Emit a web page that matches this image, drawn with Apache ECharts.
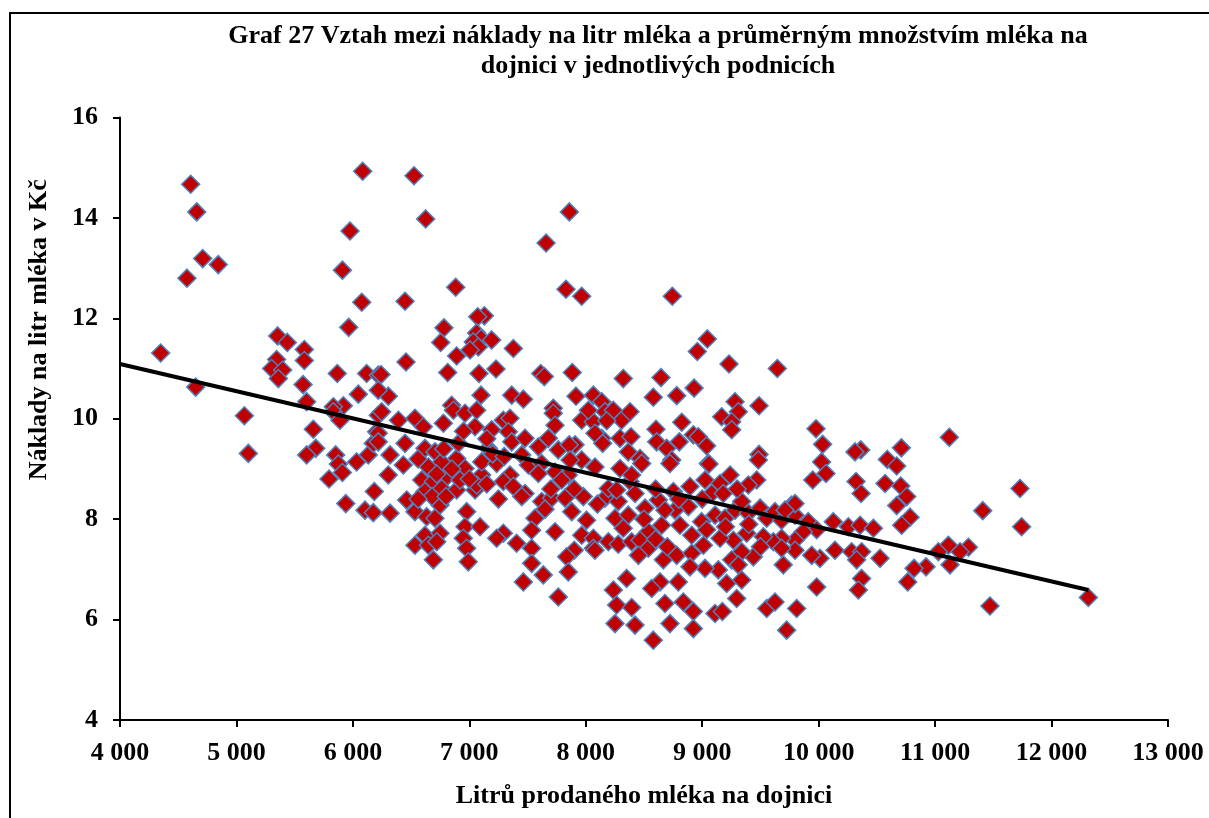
<!DOCTYPE html>
<html>
<head>
<meta charset="utf-8">
<title>Graf 27</title>
<script src="https://cdn.jsdelivr.net/npm/echarts@6/dist/echarts.min.js"></script>
<style>
  html, body { margin: 0; padding: 0; background: #fff; }
  #frame { position: absolute; left: 9px; top: 12px; width: 1400px; height: 1000px;
           border-left: 2px solid #000; border-top: 2px solid #000; }
  #chart { position: absolute; left: 0; top: 0; width: 1209px; height: 818px; }
</style>
</head>
<body>
<div id="frame"></div>
<div id="chart"></div>
<script>
// litry prodaneho mleka na dojnici, naklady na litr (Kc)
const farms = [
  [4607,14.67],[4659,14.12],[4710,13.19],[4844,13.07],[4575,12.80],[4349,11.31],[4650,10.63],
  [6084,14.93],[5975,13.74],[5910,12.96],[6076,12.32],[5964,11.82],[5354,11.65],[5437,11.52],
  [5583,11.38],[5583,11.16],[5345,11.18],[5302,11.00],[5397,10.97],[5360,10.80],[5572,10.68],
  [5603,10.34],[5866,10.90],[6118,10.90],[6047,10.49],[6218,10.87],[5918,10.26],[5832,10.24],
  [5068,10.06],[5102,9.31],[5832,10.14],[5889,9.97],[5660,9.79],[5681,9.41],[5603,9.28],
  [5852,9.28],[5875,9.10],[5910,8.93],[5795,8.80],[6032,9.14],[6132,9.28],[6175,9.51],
  [6204,9.74],[6218,10.07],[6184,8.55],[5939,8.31],[6104,8.18],[6175,8.13],
  [6525,14.84],[6625,13.98],[7859,14.12],[7659,13.50],[6883,12.62],[6448,12.34],[7830,12.58],
  [7965,12.44],[7129,12.05],[7072,12.03],[6782,11.81],[6754,11.52],[7063,11.71],[7100,11.60],
  [7192,11.57],[7034,11.53],[7077,11.43],[7006,11.37],[7378,11.40],[6891,11.25],[6456,11.13],
  [6241,10.88],[6814,10.92],[7083,10.90],[7229,10.99],[7613,10.90],[7644,10.84],[7884,10.92],
  [8322,10.80],[6304,10.45],[6218,10.57],[7100,10.47],[7364,10.47],[7464,10.39],[7916,10.45],
  [8065,10.47],[8137,10.34],[6848,10.27],[7721,10.21],
  [6247,10.14],[6391,9.97],[6533,10.01],[6605,9.84],[6777,9.91],[6863,10.17],[6963,10.11],
  [7063,10.17],[7049,9.84],[7192,9.78],[7292,9.97],[7349,10.01],[7335,9.74],[7721,10.11],
  [7736,9.87],[7965,9.97],[8065,9.94],[8022,10.17],[8165,10.14],[8236,10.17],[8308,9.97],
  [8380,10.14],[8137,9.61],[8294,9.61],[8388,9.64],
  [6218,9.71],[6218,9.54],[6319,9.28],[6304,8.88],[6319,8.12],
  [6448,9.51],[6433,9.08],[6462,8.38],[6533,8.15],[6619,9.41],[6705,9.34],[6648,9.04],
  [6762,9.14],[6591,8.78],[6691,8.75],[6806,8.84],[6619,8.55],[6762,8.61],[6891,8.58],
  [6748,8.28],[6634,8.05],[6705,8.02],[6891,9.21],[6963,9.01],[6920,8.78],[7049,8.58],
  [7106,8.88],[7063,8.68],[7106,9.14],[7235,9.11],[7163,9.41],[6906,9.51],[7349,8.88],
  [7292,8.75],[7378,8.65],[6977,8.15],[6963,7.85],[7092,7.85],[6948,7.62],[6977,7.42],
  [6991,7.15],[6619,7.68],[6748,7.72],[6533,7.48],[6648,7.48],[6720,7.55],[6691,7.19],
  [7292,7.72],[7235,7.62],[7406,7.52],[7535,7.42],[7535,7.12],[7635,6.89],[7464,6.75],
  [7764,6.45],[7564,8.02],[7535,7.78],[7736,7.75],[7478,8.51],[7450,8.45],[7621,8.35],
  [7707,8.42],[7822,8.42],[7879,8.15],[7979,8.45],[8007,7.98],[7965,7.68],[8065,7.62],
  [8065,7.42],[7901,7.38],[7836,7.25],[7850,6.95],[8165,8.42],[8279,8.35],[8251,8.02],
  [8365,8.08],[8322,7.82],[8194,7.55],[8279,7.50],[8394,7.55],[8079,7.38],[8351,6.82],
  [8237,6.59],[8265,6.29],[8394,6.24],[8251,5.92],[8423,5.89],[7364,9.54],[7478,9.61],
  [7593,9.44],[7679,9.61],[7764,9.38],[7908,9.48],[7450,9.28],[7507,9.08],[7621,9.11],
  [7736,8.94],[7850,8.88],[7965,9.18],[8079,9.04],[7593,8.91],[7793,8.78],[8294,9.01],
  [8380,8.75],[8194,8.61],[8265,8.58],[8365,9.34],[8394,8.88],
  [8180,9.96],[8079,9.71],[8145,9.51],[8924,9.68],[7858,9.48],[7865,9.18],
  [8743,12.44],[9044,11.59],[8958,11.34],[9230,11.09],[9645,11.00],[8646,10.82],[8580,10.43],
  [8781,10.46],[8930,10.61],[9282,10.34],[9488,10.26],[9310,10.14],[9167,10.04],[9253,9.94],
  [9253,9.78],[8824,9.93],[8603,9.79],[8609,9.54],[8695,9.41],[8803,9.54],[8966,9.64],
  [9038,9.46],[8738,9.18],[9052,9.11],[8466,9.21],[9488,9.29],[9977,9.80],[10034,9.49],
  [10025,9.14],[10361,9.38],[10312,9.34],[10590,9.19],[10670,9.06],[10710,9.42],
  [8480,9.11],[8723,9.11],[9058,9.10],[9482,9.18],[10063,8.91],[9949,8.78],[10321,8.75],
  [10364,8.51],[10570,8.71],[10670,8.27],
  [8423,8.51],[8509,8.22],[8623,8.38],[8752,8.55],[8895,8.65],[9024,8.78],[9153,8.71],
  [9239,8.88],[9468,8.78],[9396,8.68],[9081,8.51],[9181,8.51],[8881,8.25],[8766,8.18],
  [8680,8.18],[8652,7.88],[8537,7.75],[8466,7.58],[8537,7.42],[8452,7.28],[8666,7.19],
  [8781,7.28],[8910,7.32],[9010,7.48],[8910,7.68],[8809,7.88],[8995,7.95],[9110,8.08],
  [9196,8.02],[9282,8.18],[9339,8.35],[9396,8.12],[9497,8.22],[9554,8.02],[9625,8.15],
  [9682,7.98],[9768,8.28],[9797,8.08],[9911,7.95],[9983,7.79],[9868,7.75],[9797,7.58],
  [9682,7.62],[9611,7.55],[9525,7.65],[9382,7.72],[9267,7.58],[9153,7.62],[9038,7.79],
  [10126,7.95],[10255,7.85],[10356,7.88],[10470,7.82],[10140,7.38],[10283,7.35],[10369,7.35],
  [10326,7.19],[10527,7.22],[10011,7.22],[9940,7.28],[9797,7.38],[9682,7.42],[9439,7.25],
  [9339,7.35],[9253,7.19],[9310,7.09],[9696,7.09],[9138,6.99],[9024,7.02],[8895,7.05],
  [9210,6.72],[9339,6.79],[9296,6.42],[8795,6.75],[8638,6.75],[8566,6.62],[8680,6.32],
  [8838,6.35],[8924,6.16],[8723,5.92],[8924,5.82],[8580,5.59],[9110,6.12],[9173,6.16],
  [9554,6.22],[9625,6.35],[9811,6.22],[9725,5.79],[9983,6.65],[10369,6.82],[10341,6.59],
  [9797,8.31],[9711,8.18],
  [11122,9.63],[10705,8.66],[10756,8.45],[10785,8.04],[10713,7.88],[11729,8.61],[11409,8.17],
  [11743,7.85],[11114,7.48],[11286,7.44],[11214,7.35],[11028,7.35],[11128,7.09],[10922,7.05],
  [10819,7.02],[10765,6.75],[11471,6.27],[12316,6.44],
  // husta jadra, castecne prekryte body
  [6560,9.20],[6680,8.45],[6720,8.90],[6780,9.40],[6850,9.00],[6560,8.40],[6800,8.45],
  [7000,8.80],[7150,8.70],[7200,9.30],[7300,9.25],[7250,8.40],[7150,9.60],[6950,9.75],
  [7650,8.20],[7700,8.60],[7900,8.60],[8100,8.30],[8500,8.00],[8600,8.60],[8800,8.40],
  [9000,8.40],[9300,8.60],[9400,7.90],[9200,7.85],[8600,7.60],[8700,7.45],[9500,7.45]
];

// linearni trend (konce cary)
const trendX = [4000, 12316];
const trendY = [11.09, 6.59];

const xTicks = { min: 4000, max: 13000, step: 1000 };
const yTicks = { min: 4, max: 16, step: 2 };

const font = '"Liberation Serif", "Times New Roman", serif';

const chart = echarts.init(document.getElementById('chart'), null, { renderer: 'canvas' });

chart.setOption({
  animation: false,
  title: {
    text: 'Graf 27 Vztah mezi náklady na litr mléka a průměrným množstvím mléka na\ndojnici v jednotlivých podnicích',
    left: 658,
    top: 21,
    padding: 0,
    textAlign: 'center',
    textStyle: { fontFamily: font, fontWeight: 'bold', fontSize: 26, lineHeight: 30, color: '#000' }
  },
  grid: { left: 120, top: 117.5, right: 41, bottom: 98 },
  xAxis: {
    type: 'value',
    min: xTicks.min,
    max: xTicks.max,
    interval: xTicks.step,
    name: 'Litrů prodaného mléka na dojnici',
    nameLocation: 'middle',
    nameGap: 63,
    nameTextStyle: { fontFamily: font, fontWeight: 'bold', fontSize: 26, color: '#000' },
    axisLine: { lineStyle: { color: '#000', width: 2 } },
    axisTick: { show: true, length: 7, lineStyle: { color: '#000', width: 2 } },
    axisLabel: {
      margin: 20,
      fontFamily: font, fontWeight: 'bold', fontSize: 26, color: '#000',
      formatter: function (v) { return String(v).replace(/\B(?=(\d{3})+(?!\d))/g, ' '); }
    },
    splitLine: { show: false }
  },
  yAxis: {
    type: 'value',
    min: yTicks.min,
    max: yTicks.max,
    interval: yTicks.step,
    name: 'Náklady na litr mléka v Kč',
    nameLocation: 'middle',
    nameGap: 68,
    nameTextStyle: { fontFamily: font, fontWeight: 'bold', fontSize: 26, color: '#000', padding: [0, 0, 0, 178] },
    axisLine: { show: true, lineStyle: { color: '#000', width: 2 } },
    axisTick: { show: true, length: 7, lineStyle: { color: '#000', width: 2 } },
    axisLabel: { margin: 22, fontFamily: font, fontWeight: 'bold', fontSize: 26, color: '#000' },
    splitLine: { show: false }
  },
  series: [
    {
      type: 'scatter',
      symbol: 'diamond',
      symbolSize: 18,
      data: farms,
      itemStyle: { color: '#C00000', borderColor: '#4F81BD', borderWidth: 1.5, opacity: 1 },
      z: 2
    },
    {
      type: 'line',
      data: trendX.map(function (x, i) { return [x, trendY[i]]; }),
      showSymbol: false,
      symbol: 'none',
      lineStyle: { color: '#000', width: 4 },
      z: 3
    }
  ]
});
</script>
</body>
</html>
